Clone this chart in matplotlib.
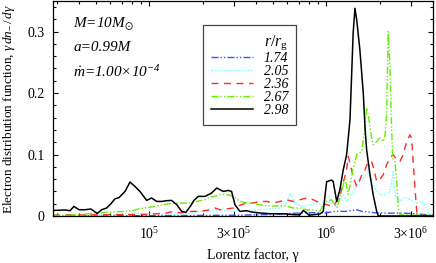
import numpy as np
import matplotlib
matplotlib.use('Agg')
import matplotlib.pyplot as plt
from matplotlib.ticker import FixedLocator, FixedFormatter, LogLocator, MultipleLocator, NullFormatter

plt.rcParams['font.family'     ] = 'Liberation Serif'
plt.rcParams['font.size'       ] = 10
plt.rcParams['mathtext.fontset'] = 'custom'
plt.rcParams['mathtext.rm'     ] = 'Liberation Serif'
plt.rcParams['mathtext.it'     ] = 'Liberation Serif:italic'
plt.rcParams['mathtext.bf'     ] = 'Liberation Serif:bold'
plt.rcParams['mathtext.fallback'] = 'stix'
plt.rcParams['xtick.direction' ] = 'in'
plt.rcParams['ytick.direction' ] = 'in'
plt.rcParams['xtick.top'       ] = True
plt.rcParams['ytick.right'     ] = True
plt.rcParams['xtick.major.size'] = 3.5
plt.rcParams['xtick.minor.size'] = 2
plt.rcParams['ytick.major.size'] = 3.5
plt.rcParams['ytick.minor.size'] = 2
plt.rcParams['axes.linewidth'  ] = 0.9

# log10(gamma) and gamma dn/dgamma for each radius r/r_g
lg_174 = [4.455, 5.003, 5.511, 5.737, 5.850, 5.935, 5.992, 6.048, 6.105, 6.171, 6.199, 6.236, 6.284,
          6.359, 6.444, 6.528, 6.602]
v_174 = [0.0005, 0.0005, 0.0013, 0.003, 0.005, 0.0054, 0.005, 0.0075, 0.0075, 0.0102, 0.0075, 0.0065,
         0.005, 0.0046, 0.0046, 0.003, 0.0013]

lg_205 = [4.455, 4.777, 4.879, 5.003, 5.116, 5.172, 5.229, 5.285, 5.342, 5.398, 5.455, 5.511, 5.568,
          5.624, 5.681, 5.737, 5.775, 5.794, 5.812, 5.832, 5.869, 5.907, 5.945, 5.982, 6.010, 6.029,
          6.058, 6.076, 6.095, 6.114, 6.133, 6.151, 6.171, 6.189, 6.208, 6.227, 6.236, 6.255, 6.264,
          6.284, 6.302, 6.340, 6.359, 6.377, 6.387, 6.397, 6.415, 6.434, 6.453, 6.472, 6.490, 6.510,
          6.538, 6.556, 6.575, 6.602]
v_205 = [0.0005, 0.0013, 0.0045, 0.0037, 0.003, 0.002, 0.0049, 0.0075, 0.0086, 0.0102, 0.0075, 0.0086,
         0.0075, 0.0102, 0.0114, 0.013, 0.0211, 0.0374, 0.0265, 0.0184, 0.0156, 0.0184, 0.0211, 0.0156,
         0.0237, 0.0211, 0.0184, 0.0293, 0.0346, 0.0237, 0.0293, 0.040, 0.0509, 0.0563, 0.0618, 0.0672,
         0.0725, 0.059, 0.0509, 0.040, 0.0346, 0.0346, 0.040, 0.072, 0.0346, 0.0293, 0.0237, 0.0293,
         0.0293, 0.0265, 0.0237, 0.0211, 0.0237, 0.0184, 0.0049, 0.0013]

lg_236 = [4.455, 4.720, 4.946, 5.003, 5.059, 5.097, 5.134, 5.172, 5.229, 5.285, 5.342, 5.370, 5.398,
          5.436, 5.473, 5.493, 5.521, 5.549, 5.586, 5.624, 5.662, 5.699, 5.737, 5.775, 5.812, 5.850,
          5.888, 5.925, 5.963, 6.001, 6.038, 6.076, 6.095, 6.114, 6.123, 6.133, 6.151, 6.171, 6.189,
          6.208, 6.218, 6.236, 6.255, 6.264, 6.284, 6.302, 6.321, 6.340, 6.359, 6.377, 6.397, 6.415,
          6.434, 6.453, 6.472, 6.481, 6.490, 6.500, 6.510, 6.519, 6.602]
v_236 = [0.0016, 0.002, 0.0024, 0.0029, 0.004, 0.0049, 0.0075, 0.0049, 0.0075, 0.0075, 0.0102, 0.013,
         0.0102, 0.0114, 0.013, 0.0156, 0.0184, 0.0211, 0.0211, 0.0237, 0.0237, 0.0211, 0.0237, 0.0265,
         0.0237, 0.0265, 0.0293, 0.0265, 0.0211, 0.0184, 0.0156, 0.0319, 0.0537, 0.0753, 0.0969, 0.0862,
         0.0644, 0.0481, 0.059, 0.072, 0.0753, 0.0883, 0.0883, 0.0807, 0.0563, 0.059, 0.0672, 0.0834,
         0.0943, 0.0997, 0.0915, 0.0888, 0.0997, 0.1213, 0.132, 0.1268, 0.0888, 0.0455, 0.0075, 0.0013,
         0.0008]

lg_267 = [4.455, 4.607, 4.692, 4.777, 4.862, 4.899, 4.946, 5.021, 5.059, 5.134, 5.210, 5.247, 5.285,
          5.314, 5.342, 5.360, 5.398, 5.436, 5.473, 5.511, 5.549, 5.586, 5.624, 5.662, 5.699, 5.737,
          5.775, 5.812, 5.850, 5.888, 5.925, 5.963, 5.992, 6.029, 6.058, 6.076, 6.105, 6.123, 6.151,
          6.171, 6.199, 6.218, 6.227, 6.236, 6.255, 6.264, 6.284, 6.302, 6.321, 6.331, 6.340, 6.349,
          6.359, 6.363, 6.368, 6.374, 6.387, 6.397, 6.406, 6.415, 6.602]
v_267 = [0.001, 0.002, 0.005, 0.006, 0.0075, 0.0086, 0.012, 0.015, 0.0176, 0.021, 0.021, 0.022, 0.025,
         0.0265, 0.031, 0.031, 0.035, 0.035, 0.032, 0.024, 0.021, 0.021, 0.018, 0.017, 0.016, 0.017,
         0.016, 0.013, 0.013, 0.010, 0.010, 0.0075, 0.023, 0.0265, 0.013, 0.029, 0.062, 0.035, 0.078,
         0.100, 0.105, 0.143, 0.176, 0.165, 0.127, 0.116, 0.121, 0.127, 0.121, 0.132, 0.165, 0.300,
         0.243, 0.197, 0.143, 0.094, 0.089, 0.056, 0.013, 0.002, 0.001]

lg_298 = [4.456, 4.523, 4.551, 4.573, 4.602, 4.636, 4.668, 4.683, 4.705, 4.730, 4.758, 4.782, 4.805,
          4.828, 4.862, 4.890, 4.918, 4.946, 4.984, 5.012, 5.041, 5.069, 5.097, 5.125, 5.154, 5.182,
          5.206, 5.233, 5.251, 5.276, 5.314, 5.351, 5.380, 5.398, 5.417, 5.445, 5.464, 5.483, 5.511,
          5.549, 5.577, 5.624, 5.681, 5.756, 5.822, 5.850, 5.869, 5.888, 5.901, 5.963, 5.982, 6.001,
          6.029, 6.038, 6.058, 6.076, 6.095, 6.114, 6.133, 6.151, 6.161, 6.171, 6.189, 6.208, 6.218,
          6.227, 6.246, 6.264, 6.284, 6.293, 6.602]
v_298 = [0.0091, 0.0098, 0.0086, 0.0156, 0.0102, 0.0102, 0.0114, 0.0086, 0.0042, 0.0102, 0.013, 0.020,
         0.028, 0.030, 0.040, 0.0553, 0.048, 0.040, 0.0254, 0.0293, 0.0237, 0.0237, 0.0249, 0.0254,
         0.0184, 0.0075, 0.0059, 0.0167, 0.0254, 0.0319, 0.0319, 0.0374, 0.0455, 0.0428, 0.040, 0.0416,
         0.040, 0.0184, 0.0075, 0.0086, 0.0065, 0.0049, 0.0037, 0.0037, 0.002, 0.002, 0.0091, 0.0049,
         0.0013, 0.0033, 0.0075, 0.0558, 0.0585, 0.0563, 0.0237, 0.0428, 0.0753, 0.0997, 0.1566, 0.298,
         0.338, 0.319, 0.270, 0.2005, 0.1436, 0.1078, 0.0672, 0.0346, 0.0075, 0.0, 0.0]

Labels = ['1.74', '2.05', '2.36', '2.67', '2.98']
Colors = ['#3355ff', '#80ffff', '#ff2a2a', '#66ee00', 'black']
Dashes = [(5, 1.5, 1, 1.5, 1, 1.5), (1.5, 1, 1, 1, 1, 1), (5, 4), (5, 1.5, 1, 1.5, 1, 1.5), None]

xticks  = [1e5, 3e5, 1e6, 3e6]
xlabels = [r'$10^5$', r'$3{\times}10^5$', r'$10^6$', r'$3{\times}10^6$']

fig = plt.figure(figsize=(4.36, 2.63), dpi=100)
ax = fig.add_axes([0.1216, 0.1787, 0.8715, 0.8156])

series = [(lg_174, v_174), (lg_205, v_205), (lg_236, v_236), (lg_267, v_267), (lg_298, v_298)]
for (lg, v), label, color, dash in zip(series, Labels, Colors, Dashes):
    g = 10.0 ** np.array(lg)
    if dash is None:
        ax.plot(g, v, color=color, lw=1.1, label=label, zorder=5)
    else:
        ax.plot(g, v, color=color, lw=1.0, dashes=dash, label=label)

ax.set_xscale('log')
ax.set_xlim(10 ** 4.455, 10 ** 6.602)
ax.set_ylim(0, 0.349)

ax.xaxis.set_major_locator(FixedLocator(xticks))
ax.xaxis.set_major_formatter(FixedFormatter(xlabels))
ax.xaxis.set_minor_locator(LogLocator(base=10, subs=np.arange(1, 10), numticks=20))
ax.xaxis.set_minor_formatter(NullFormatter())
ax.set_yticks([0, 0.1, 0.2, 0.3])
ax.set_yticklabels(['0', '0.1', '0.2', '0.3'])
ax.yaxis.set_minor_locator(MultipleLocator(0.02))
ax.tick_params(which='both', width=0.8)
ax.tick_params(axis='x', which='major', pad=7)
ax.tick_params(axis='y', which='major', pad=6)

ax.set_xlabel('Lorentz factor, γ', fontsize=10)
ax.xaxis.set_label_coords(0.525, -0.148)
ax.set_ylabel(r'Electron distribution function, $\gamma\,dn_{-}\,/\,d\gamma$', fontsize=9.5)
ax.yaxis.set_label_coords(-0.095, 0.5)

txt = dict(transform=ax.transAxes, fontsize=11, style='italic', ha='left', va='center')
ax.text(0.053, 0.891, r'M=10M$_{\odot}$', **txt)
ax.text(0.053, 0.784, 'a=0.99M', **txt)
ax.text(0.053, 0.672, r'$\dot{m}$=1.00×10$^{\mathregular{-4}}$', **txt)

leg = ax.legend(loc='upper left', bbox_to_anchor=(0.395, 0.89), borderaxespad=0,
                title=r'$r/r_{\rm g}$', prop={'style': 'italic', 'size': 10},
                title_fontproperties={'size': 11.5},
                handlelength=3.0, handletextpad=0.75, borderpad=0.6, labelspacing=0.0,
                alignment='right', fancybox=False, framealpha=1, edgecolor='#444444')
leg.get_frame().set_linewidth(0.9)

plt.savefig('out.png', dpi=100)
